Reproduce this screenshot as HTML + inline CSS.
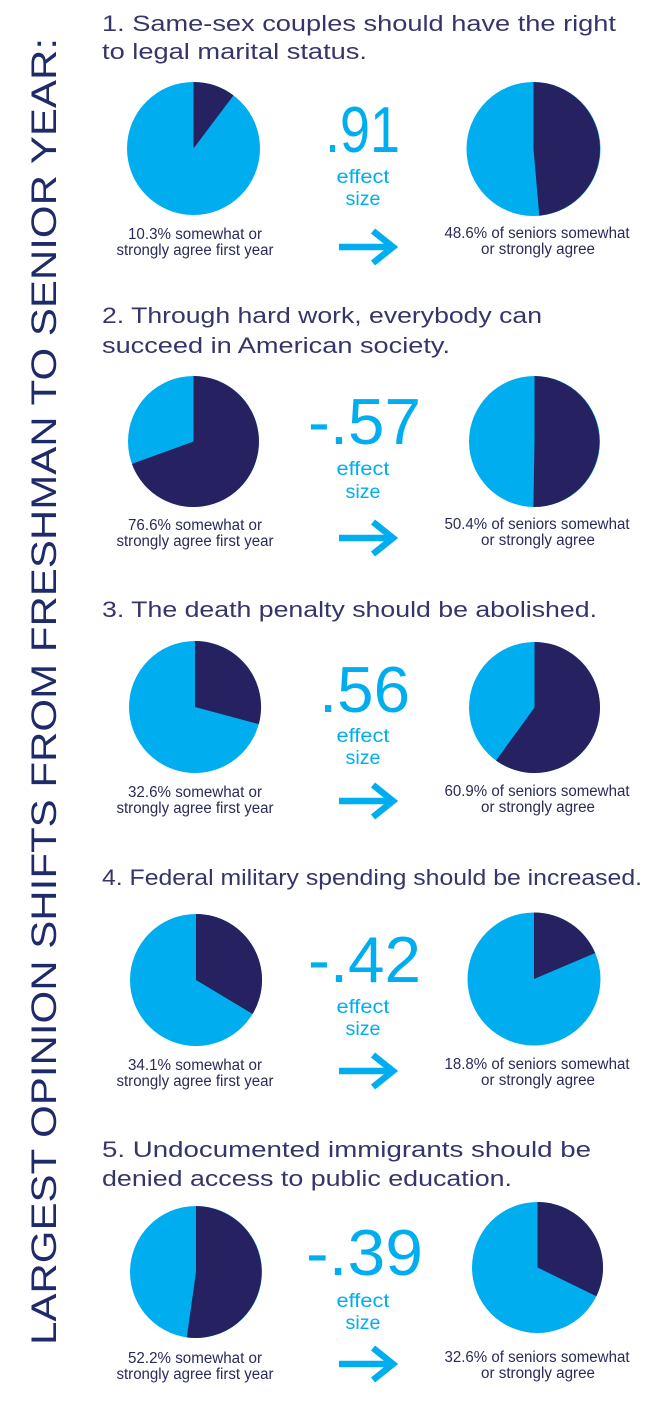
<!DOCTYPE html>
<html><head><meta charset="utf-8"><style>
html,body{margin:0;padding:0;background:#fff;}
svg{display:block;}
text{font-family:"Liberation Sans",sans-serif;}
.h{font-size:22px;fill:#36356a;}
.n{font-size:65px;fill:#00aeef;}
.e{font-size:19px;fill:#00aeef;}
.c{font-size:15.5px;fill:#2a2a5a;}
.dk{fill:#262262;}
.lt{fill:#00aeef;}
.ar{stroke:#00aeef;stroke-width:6.5;fill:none;}
</style></head><body>
<svg width="650" height="1411" viewBox="0 0 650 1411" xmlns="http://www.w3.org/2000/svg">
<rect width="650" height="1411" fill="#fff"/>

<text transform="translate(56,1345) rotate(-90)" font-size="35" fill="#1f2a6b" textLength="1307" lengthAdjust="spacingAndGlyphs">LARGEST OPINION SHIFTS FROM FRESHMAN TO SENIOR YEAR:</text>

<!-- Section 1 -->
<text class="h" x="102" y="31" textLength="514" lengthAdjust="spacingAndGlyphs">1.  Same-sex couples should have the right</text>
<text class="h" x="102" y="59" textLength="265" lengthAdjust="spacingAndGlyphs">to legal marital status.</text>
<circle class="lt" cx="193.5" cy="148.5" r="66.5"/>
<path class="dk" d="M193.5,148.5 L193.5,82 A66.5,66.5 0 0 1 233.5,95.4 Z"/>
<circle class="lt" cx="533.5" cy="149" r="67"/>
<path class="dk" d="M533.5,149 L533.5,82 A67,67 0 0 1 539.3,215.7 Z"/>
<text class="n" x="325" y="152" textLength="75" lengthAdjust="spacingAndGlyphs">.91</text>
<text class="e" x="363" y="183" text-anchor="middle" textLength="53" lengthAdjust="spacingAndGlyphs">effect</text>
<text class="e" x="363" y="205" text-anchor="middle" textLength="35" lengthAdjust="spacingAndGlyphs">size</text>
<g class="ar" transform="translate(0,247)"><path d="M339,0 H392"/><path d="M373,-16 L393,0 L373,16"/></g>
<text class="c" x="195" y="239" text-anchor="middle" textLength="134" lengthAdjust="spacingAndGlyphs">10.3% somewhat or</text>
<text class="c" x="195" y="255" text-anchor="middle" textLength="157" lengthAdjust="spacingAndGlyphs">strongly agree first year</text>
<text class="c" x="537" y="238" text-anchor="middle" textLength="185" lengthAdjust="spacingAndGlyphs">48.6% of seniors somewhat</text>
<text class="c" x="538" y="254" text-anchor="middle" textLength="114" lengthAdjust="spacingAndGlyphs">or strongly agree</text>

<!-- Section 2 -->
<text class="h" x="102" y="323" textLength="440" lengthAdjust="spacingAndGlyphs">2. Through hard work, everybody can</text>
<text class="h" x="102" y="353" textLength="348" lengthAdjust="spacingAndGlyphs">succeed in American society.</text>
<circle class="lt" cx="193.5" cy="441.5" r="65.5"/>
<path class="dk" d="M193.5,441.5 L193.5,376 A65.5,65.5 0 1 1 131.9,463.9 Z"/>
<circle class="lt" cx="534.5" cy="441.5" r="65.5"/>
<path class="dk" d="M534.5,441.5 L534.5,376 A65.5,65.5 0 1 1 533.4,507 Z"/>
<text class="n" x="308" y="444" textLength="113" lengthAdjust="spacingAndGlyphs">-.57</text>
<text class="e" x="363" y="475" text-anchor="middle" textLength="53" lengthAdjust="spacingAndGlyphs">effect</text>
<text class="e" x="363" y="498" text-anchor="middle" textLength="35" lengthAdjust="spacingAndGlyphs">size</text>
<g class="ar" transform="translate(0,538)"><path d="M339,0 H392"/><path d="M373,-16 L393,0 L373,16"/></g>
<text class="c" x="195" y="530" text-anchor="middle" textLength="134" lengthAdjust="spacingAndGlyphs">76.6% somewhat or</text>
<text class="c" x="195" y="546" text-anchor="middle" textLength="157" lengthAdjust="spacingAndGlyphs">strongly agree first year</text>
<text class="c" x="537" y="529" text-anchor="middle" textLength="185" lengthAdjust="spacingAndGlyphs">50.4% of seniors somewhat</text>
<text class="c" x="538" y="545" text-anchor="middle" textLength="114" lengthAdjust="spacingAndGlyphs">or strongly agree</text>

<!-- Section 3 -->
<text class="h" x="102" y="617" textLength="495" lengthAdjust="spacingAndGlyphs">3. The death penalty should be abolished.</text>
<circle class="lt" cx="195" cy="707" r="66"/>
<path class="dk" d="M195,707 L195,641 A66,66 0 0 1 258.8,724.1 Z"/>
<circle class="lt" cx="534.5" cy="707.5" r="65.5"/>
<path class="dk" d="M534.5,707.5 L534.5,642 A65.5,65.5 0 1 1 496,760.5 Z"/>
<text class="n" x="319" y="712" textLength="91" lengthAdjust="spacingAndGlyphs">.56</text>
<text class="e" x="363" y="742" text-anchor="middle" textLength="53" lengthAdjust="spacingAndGlyphs">effect</text>
<text class="e" x="363" y="764" text-anchor="middle" textLength="35" lengthAdjust="spacingAndGlyphs">size</text>
<g class="ar" transform="translate(0,801)"><path d="M339,0 H392"/><path d="M373,-16 L393,0 L373,16"/></g>
<text class="c" x="195" y="797" text-anchor="middle" textLength="134" lengthAdjust="spacingAndGlyphs">32.6% somewhat or</text>
<text class="c" x="195" y="813" text-anchor="middle" textLength="157" lengthAdjust="spacingAndGlyphs">strongly agree first year</text>
<text class="c" x="537" y="796" text-anchor="middle" textLength="185" lengthAdjust="spacingAndGlyphs">60.9% of seniors somewhat</text>
<text class="c" x="538" y="812" text-anchor="middle" textLength="114" lengthAdjust="spacingAndGlyphs">or strongly agree</text>

<!-- Section 4 -->
<text class="h" x="102" y="885" textLength="540" lengthAdjust="spacingAndGlyphs">4. Federal military spending should be increased.</text>
<circle class="lt" cx="196" cy="980" r="66"/>
<path class="dk" d="M196,980 L196,914 A66,66 0 0 1 252.6,1014 Z"/>
<circle class="lt" cx="534" cy="979" r="66.5"/>
<path class="dk" d="M534,979 L534,912.5 A66.5,66.5 0 0 1 595.2,953 Z"/>
<text class="n" x="308" y="982" textLength="113" lengthAdjust="spacingAndGlyphs">-.42</text>
<text class="e" x="363" y="1013" text-anchor="middle" textLength="53" lengthAdjust="spacingAndGlyphs">effect</text>
<text class="e" x="363" y="1035" text-anchor="middle" textLength="35" lengthAdjust="spacingAndGlyphs">size</text>
<g class="ar" transform="translate(0,1071)"><path d="M339,0 H392"/><path d="M373,-16 L393,0 L373,16"/></g>
<text class="c" x="195" y="1070" text-anchor="middle" textLength="134" lengthAdjust="spacingAndGlyphs">34.1% somewhat or</text>
<text class="c" x="195" y="1086" text-anchor="middle" textLength="157" lengthAdjust="spacingAndGlyphs">strongly agree first year</text>
<text class="c" x="537" y="1069" text-anchor="middle" textLength="185" lengthAdjust="spacingAndGlyphs">18.8% of seniors somewhat</text>
<text class="c" x="538" y="1085" text-anchor="middle" textLength="114" lengthAdjust="spacingAndGlyphs">or strongly agree</text>

<!-- Section 5 -->
<text class="h" x="102" y="1157" textLength="489" lengthAdjust="spacingAndGlyphs">5. Undocumented immigrants should be</text>
<text class="h" x="102" y="1186" textLength="410" lengthAdjust="spacingAndGlyphs">denied access to public education.</text>
<circle class="lt" cx="196" cy="1272" r="66"/>
<path class="dk" d="M196,1272 L196,1206 A66,66 0 1 1 186.8,1337.4 Z"/>
<circle class="lt" cx="537.5" cy="1267.5" r="65.5"/>
<path class="dk" d="M537.5,1267.5 L537.5,1202 A65.5,65.5 0 0 1 596.4,1296.2 Z"/>
<text class="n" x="306" y="1275" textLength="117" lengthAdjust="spacingAndGlyphs">-.39</text>
<text class="e" x="363" y="1307" text-anchor="middle" textLength="53" lengthAdjust="spacingAndGlyphs">effect</text>
<text class="e" x="363" y="1329" text-anchor="middle" textLength="35" lengthAdjust="spacingAndGlyphs">size</text>
<g class="ar" transform="translate(0,1364)"><path d="M339,0 H392"/><path d="M373,-16 L393,0 L373,16"/></g>
<text class="c" x="195" y="1363" text-anchor="middle" textLength="134" lengthAdjust="spacingAndGlyphs">52.2% somewhat or</text>
<text class="c" x="195" y="1379" text-anchor="middle" textLength="157" lengthAdjust="spacingAndGlyphs">strongly agree first year</text>
<text class="c" x="537" y="1362" text-anchor="middle" textLength="185" lengthAdjust="spacingAndGlyphs">32.6% of seniors somewhat</text>
<text class="c" x="538" y="1378" text-anchor="middle" textLength="114" lengthAdjust="spacingAndGlyphs">or strongly agree</text>
</svg>
</body></html>
